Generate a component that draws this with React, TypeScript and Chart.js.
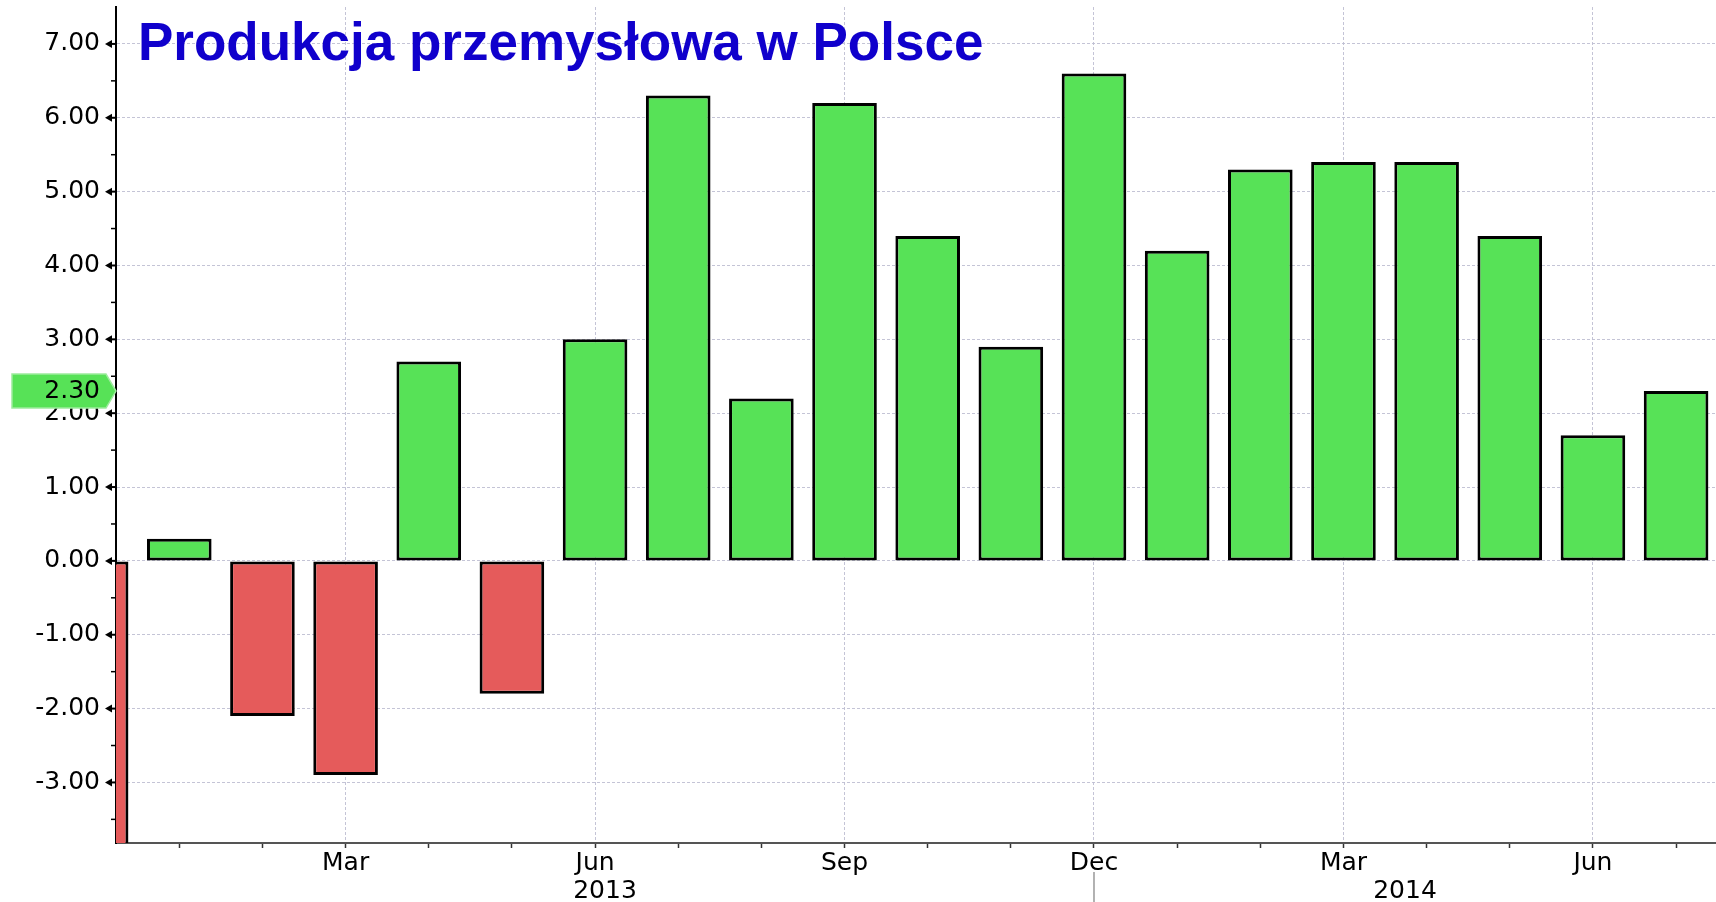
import React, { useEffect, useRef } from 'react';
import { Chart, registerables } from 'chart.js';

Chart.register(...registerables);

// ---- data ----
const title = 'Produkcja przemysłowa w Polsce';
const months = ['Dec', 'Jan', 'Feb', 'Mar', 'Apr', 'May', 'Jun', 'Jul', 'Aug', 'Sep', 'Oct', 'Nov', 'Dec', 'Jan', 'Feb', 'Mar', 'Apr', 'May', 'Jun', 'Jul'];
const values = [-10.6, 0.3, -2.1, -2.9, 2.7, -1.8, 3.0, 6.3, 2.2, 6.2, 4.4, 2.9, 6.6, 4.2, 5.3, 5.4, 5.4, 4.4, 1.7, 2.3];
const labeledMonths = ['Mar', 'Jun', 'Sep', 'Dec'];
const yearLabels = ['2013', '2014'];
const yTickValues = [-3.5, -3, -2.5, -2, -1.5, -1, -0.5, 0, 0.5, 1, 1.5, 2, 2.5, 3, 3.5, 4, 4.5, 5, 5.5, 6, 6.5, 7];

const GREEN = '#57E257';
const RED = '#E55B5B';
const GRID = 'rgba(190,190,210,0.9)';
const FONT = '"DejaVu Sans", Verdana, sans-serif';
const FSIZE = 25;

const overlayPlugin = {
  id: 'overlay',
  afterDraw(chart: any) {
    const ctx = chart.ctx;
    const x = chart.scales.x;
    const y = chart.scales.y;
    const area = chart.chartArea;
    ctx.save();

    // custom y ticks
    ctx.fillStyle = '#000';
    ctx.strokeStyle = '#000';
    for (const v of yTickValues) {
      const py = y.getPixelForValue(v);
      if (Number.isInteger(v)) {
        ctx.beginPath();
        ctx.moveTo(area.left - 11, py);
        ctx.lineTo(area.left - 4, py - 4);
        ctx.lineTo(area.left - 4, py + 4);
        ctx.closePath();
        ctx.fill();
        ctx.lineWidth = 2;
        ctx.beginPath();
        ctx.moveTo(area.left - 5, py);
        ctx.lineTo(area.left, py);
        ctx.stroke();
      } else {
        ctx.lineWidth = 1.5;
        ctx.beginPath();
        ctx.moveTo(area.left - 5, py);
        ctx.lineTo(area.left, py);
        ctx.stroke();
      }
    }

    // last value tag
    const last = values[values.length - 1];
    const yc = y.getPixelForValue(last);
    const h = 17;
    ctx.beginPath();
    ctx.moveTo(12, yc - h);
    ctx.lineTo(area.left - 10, yc - h);
    ctx.lineTo(area.left, yc);
    ctx.lineTo(area.left - 10, yc + h);
    ctx.lineTo(12, yc + h);
    ctx.closePath();
    ctx.fillStyle = GREEN;
    ctx.fill();
    ctx.strokeStyle = '#9DEB9D';
    ctx.lineWidth = 1.5;
    ctx.stroke();
    ctx.fillStyle = '#000';
    ctx.font = `${FSIZE}px ${FONT}`;
    ctx.textAlign = 'right';
    ctx.textBaseline = 'middle';
    ctx.fillText(last.toFixed(2), area.left - 16, yc);

    // year labels and year divider
    const boundaries: number[] = [];
    months.forEach((m, i) => { if (m === 'Dec' && i >= x.min) boundaries.push(i); });
    const edges = [x.min, ...boundaries, x.max];
    ctx.font = `${FSIZE}px ${FONT}`;
    ctx.textAlign = 'center';
    ctx.textBaseline = 'alphabetic';
    yearLabels.forEach((lab, i) => {
      const p0 = x.getPixelForValue(edges[i]);
      const p1 = x.getPixelForValue(edges[i + 1]);
      ctx.fillText(lab, (p0 + p1) / 2, 898);
    });
    ctx.strokeStyle = '#999';
    ctx.lineWidth = 1.5;
    boundaries.forEach((b) => {
      const px = x.getPixelForValue(b);
      ctx.beginPath();
      ctx.moveTo(px, 872);
      ctx.lineTo(px, chart.height);
      ctx.stroke();
    });

    // title
    ctx.fillStyle = '#1000CC';
    ctx.font = 'bold 53px "Liberation Sans", Arial, sans-serif';
    ctx.textAlign = 'left';
    ctx.textBaseline = 'alphabetic';
    ctx.fillText(title, 138, 60);

    ctx.restore();
  },
};

export default function App() {
  const ref = useRef<HTMLCanvasElement | null>(null);

  useEffect(() => {
    if (!ref.current) return;
    const chart = new Chart(ref.current, {
      type: 'bar',
      data: {
        datasets: [
          {
            data: values.map((v, i) => ({ x: i, y: v })),
            backgroundColor: values.map((v) => (v >= 0 ? GREEN : RED)),
            borderColor: '#000',
            borderWidth: 3,
            borderSkipped: false,
            barPercentage: 0.777,
            categoryPercentage: 1,
            clip: 0,
          } as any,
        ],
      },
      options: {
        responsive: false,
        animation: false,
        devicePixelRatio: 1,
        layout: { padding: { top: 7, right: 0, left: 0, bottom: 0 } },
        plugins: {
          legend: { display: false },
          tooltip: { enabled: false },
          title: { display: false },
        },
        scales: {
          x: {
            type: 'linear',
            offset: false,
            min: 0.239,
            max: 19.48,
            afterBuildTicks: (axis: any) => {
              axis.ticks = months
                .map((_, i) => ({ value: i }))
                .filter((t) => t.value >= axis.min && t.value <= axis.max);
            },
            afterFit: (axis: any) => {
              axis.height = 59;
              axis.paddingLeft = 0;
              axis.paddingRight = 0;
            },
            ticks: {
              autoSkip: false,
              maxRotation: 0,
              padding: 0,
              color: '#000',
              font: { family: FONT, size: FSIZE },
              callback: (v: any) => (labeledMonths.includes(months[v]) ? months[v] : ''),
            },
            grid: {
              offset: false,
              color: (c: any) => (c.tick && labeledMonths.includes(months[c.tick.value]) ? GRID : 'rgba(0,0,0,0)'),
              lineWidth: 1,
              tickLength: 5,
              tickColor: '#333',
              tickWidth: 1.5,
            },
            border: { display: true, color: '#555', width: 2, dash: [3, 2] },
          },
          y: {
            min: -3.82,
            max: 7.5,
            afterBuildTicks: (axis: any) => {
              axis.ticks = yTickValues.map((v) => ({ value: v }));
            },
            afterFit: (axis: any) => {
              axis.width = 116;
              axis.paddingTop = 0;
              axis.paddingBottom = 0;
            },
            ticks: {
              autoSkip: false,
              padding: 16,
              color: '#000',
              font: { family: FONT, size: FSIZE },
              callback: (v: any) => (Number.isInteger(v) ? Number(v).toFixed(2) : ''),
            },
            grid: {
              color: (c: any) => (c.tick && Number.isInteger(c.tick.value) ? GRID : 'rgba(0,0,0,0)'),
              lineWidth: 1,
              drawTicks: false,
            },
            border: { display: true, color: '#000', width: 2, dash: [3, 2] },
          },
        },
      } as any,
      plugins: [overlayPlugin],
    });
    return () => chart.destroy();
  }, []);

  return (
    <div style={{ position: 'fixed', left: 0, top: 0, width: 1716, height: 902, background: '#fff' }}>
      <canvas ref={ref} width={1716} height={902} style={{ width: 1716, height: 902, display: 'block' }} />
    </div>
  );
}
